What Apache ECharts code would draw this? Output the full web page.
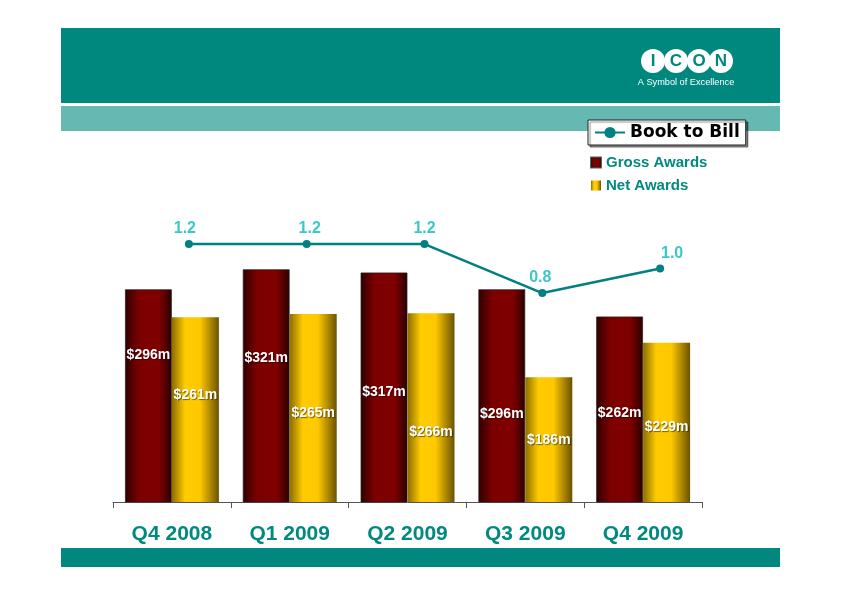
<!DOCTYPE html>
<html>
<head>
<meta charset="utf-8">
<script src="https://cdn.jsdelivr.net/npm/echarts@6/dist/echarts.min.js"></script>
<style>html,body{margin:0;padding:0;background:#fff}#c{width:842px;height:595px}</style>
</head>
<body>
<div id="c"></div>
<script>
// ---- data ----
var categories = ['Q4 2008', 'Q1 2009', 'Q2 2009', 'Q3 2009', 'Q4 2009'];
var grossAwards = [296, 321, 317, 296, 262];
var netAwards = [261, 265, 266, 186, 229];
var bookToBill = [1.2, 1.2, 1.2, 0.8, 1.0];

// label placement (layout only)
var grossLabelDrop = [59, 82, 113, 118, 90];
var netLabelDrop = [71, 92, 112, 56, 77];
var ratioLabelShift = [-4, 3, 0, -2, 12];

var TEAL = '#00887E';
var TEXT_TEAL = '#00897F';
var FONT = 'Arial, "Liberation Sans", sans-serif';

function money(v) { return '$' + v + 'm'; }

var grossGrad = new echarts.graphic.LinearGradient(0, 0, 1, 0, [
  {offset: 0, color: '#2e0000'}, {offset: 0.3, color: '#7c0000'},
  {offset: 0.72, color: '#800000'}, {offset: 1, color: '#2a0000'}
]);
var netGrad = new echarts.graphic.LinearGradient(0, 0, 1, 0, [
  {offset: 0, color: '#8c6c00'}, {offset: 0.28, color: '#ffcc00'},
  {offset: 0.6, color: '#ffc800'}, {offset: 1, color: '#6a5200'}
]);

function barData(vals, drops) {
  return vals.map(function (v, i) {
    return {value: v, label: {offset: [0, drops[i]]}};
  });
}
function lineData(vals, shifts) {
  return vals.map(function (v, i) {
    return {value: v, label: {offset: [shifts[i], 0]}};
  });
}

var chart = echarts.init(document.getElementById('c'), null, {renderer: 'canvas'});
chart.setOption({
  animation: false,
  backgroundColor: '#ffffff',
  graphic: [
    {type: 'rect', shape: {x: 61, y: 28, width: 719, height: 75}, style: {fill: TEAL}, z: 0},
    {type: 'rect', shape: {x: 61, y: 106, width: 719, height: 25}, style: {fill: '#66B9B2'}, z: 0},
    {type: 'rect', shape: {x: 61, y: 548, width: 719, height: 19}, style: {fill: TEAL}, z: 0},
    // logo
    {type: 'circle', shape: {cx: 653, cy: 61, r: 12}, style: {fill: '#fff'}, z: 1},
    {type: 'circle', shape: {cx: 676, cy: 61, r: 12}, style: {fill: '#fff'}, z: 1},
    {type: 'circle', shape: {cx: 699, cy: 61, r: 12}, style: {fill: '#fff'}, z: 1},
    {type: 'circle', shape: {cx: 721, cy: 61, r: 12}, style: {fill: '#fff'}, z: 1},
    {type: 'text', x: 653, y: 61, style: {text: 'I', fill: TEAL, font: 'bold 17px ' + FONT, align: 'center', verticalAlign: 'middle'}, z: 2},
    {type: 'text', x: 676, y: 61, style: {text: 'C', fill: TEAL, font: 'bold 17px ' + FONT, align: 'center', verticalAlign: 'middle'}, z: 2},
    {type: 'text', x: 699, y: 61, style: {text: 'O', fill: TEAL, font: 'bold 17px ' + FONT, align: 'center', verticalAlign: 'middle'}, z: 2},
    {type: 'text', x: 721, y: 61, style: {text: 'N', fill: TEAL, font: 'bold 17px ' + FONT, align: 'center', verticalAlign: 'middle'}, z: 2},
    {type: 'text', x: 686, y: 82, style: {text: 'A Symbol of Excellence', fill: '#fff', font: '9.2px ' + FONT, align: 'center', verticalAlign: 'middle'}, z: 2}
  ],
  legend: [
    {
      data: ['Book to Bill'],
      left: 588, top: 120,
      padding: [4, 6, 4, 6],
      itemWidth: 30, itemHeight: 14,
      backgroundColor: '#ffffff',
      borderColor: '#222', borderWidth: 1, borderRadius: 0,
      shadowColor: 'rgba(0,0,0,0.45)', shadowBlur: 1, shadowOffsetX: 2, shadowOffsetY: 2,
      textStyle: {fontFamily: '"DejaVu Sans", ' + FONT, fontWeight: 'bold', fontSize: 17, color: '#000'}
    },
    {
      data: [{name: 'Gross Awards', icon: 'rect'}, {name: 'Net Awards', icon: 'rect'}],
      orient: 'vertical',
      left: 590, top: 155,
      padding: 0,
      itemWidth: 10, itemHeight: 10,
      itemGap: 8,
      textStyle: {fontFamily: FONT, fontWeight: 'bold', fontSize: 15, color: TEXT_TEAL}
    }
  ],
  grid: [
    {left: 113, right: 140, top: 210, bottom: 93},
    {left: 130, right: 123, top: 210, bottom: 93}
  ],
  xAxis: [
    {
      type: 'category', gridIndex: 0, data: categories,
      axisLine: {lineStyle: {color: '#555', width: 1}},
      axisTick: {show: true, length: 6, lineStyle: {color: '#555'}},
      axisLabel: {margin: 22, color: TEXT_TEAL, fontWeight: 'bold', fontSize: 21, fontFamily: FONT}
    },
    {type: 'category', gridIndex: 1, data: categories, show: false}
  ],
  yAxis: [
    {type: 'value', gridIndex: 0, min: 30, max: 395, show: false, splitLine: {show: false}},
    {type: 'value', gridIndex: 1, min: -0.906, max: 1.478, show: false, splitLine: {show: false}}
  ],
  series: [
    {
      name: 'Gross Awards', type: 'bar', xAxisIndex: 0, yAxisIndex: 0,
      data: barData(grossAwards, grossLabelDrop),
      barWidth: 47, barGap: '0%',
      itemStyle: {color: grossGrad, borderColor: 'rgba(30,30,30,0.7)', borderWidth: 1},
      label: {show: true, position: 'insideTop', distance: 0, color: '#fff', fontWeight: 'bold',
        fontSize: 14, fontFamily: FONT, formatter: function (p) { return money(p.value); },
        textShadowColor: 'rgba(0,0,0,0.5)', textShadowBlur: 1, textShadowOffsetX: 1, textShadowOffsetY: 1}
    },
    {
      name: 'Net Awards', type: 'bar', xAxisIndex: 0, yAxisIndex: 0,
      data: barData(netAwards, netLabelDrop),
      barWidth: 47, barGap: '0%',
      itemStyle: {color: netGrad},
      label: {show: true, position: 'insideTop', distance: 0, color: '#fff', fontWeight: 'bold',
        fontSize: 14, fontFamily: FONT, formatter: function (p) { return money(p.value); },
        textShadowColor: 'rgba(0,0,0,0.5)', textShadowBlur: 1, textShadowOffsetX: 1, textShadowOffsetY: 1}
    },
    {
      name: 'Book to Bill', type: 'line', xAxisIndex: 1, yAxisIndex: 1,
      data: lineData(bookToBill, ratioLabelShift),
      symbol: 'circle', symbolSize: 8,
      lineStyle: {color: '#008080', width: 2.5},
      itemStyle: {color: '#008080'},
      z: 5,
      label: {show: true, position: 'top', distance: 3, color: '#3CC8C8', fontWeight: 'bold',
        fontSize: 16, fontFamily: FONT, formatter: function (p) { return p.value.toFixed(1); }}
    }
  ]
});
</script>
</body>
</html>
